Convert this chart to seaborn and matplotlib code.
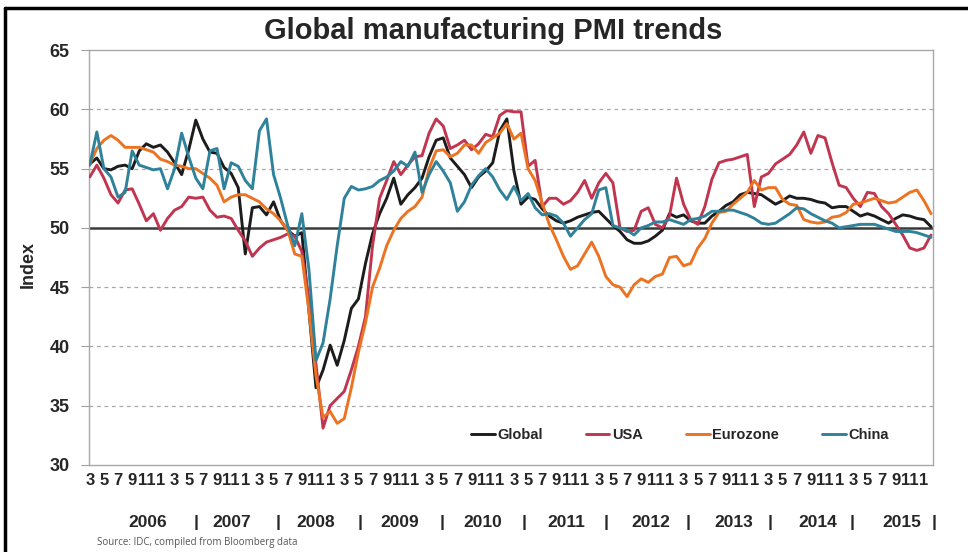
import numpy as np
import pandas as pd
import matplotlib
matplotlib.use("Agg")
import matplotlib.pyplot as plt
from matplotlib import font_manager
from matplotlib.lines import Line2D
import seaborn as sns

# Monthly manufacturing PMI readings, March 2006 to February 2016
global_pmi = [
    55.4, 55.9, 55.0, 54.9, 55.2, 55.3, 55.0, 56.5, 57.1, 56.8, 57.0, 56.4,
    55.5, 54.5, 56.6, 59.1, 57.5, 56.4, 56.3, 55.1, 54.6, 53.4, 47.8, 51.7,
    51.8, 51.1, 52.2, 50.6, 49.8, 49.3, 49.6, 43.0, 36.5, 38.0, 40.1, 38.4,
    40.5, 43.2, 44.0, 47.0, 49.5, 51.2, 52.5, 54.2, 52.0, 52.8, 53.4, 54.2,
    56.0, 57.4, 57.6, 55.9, 55.2, 54.5, 53.4, 54.3, 54.8, 55.5, 58.2, 59.2,
    54.8, 52.0, 52.6, 52.4, 51.6, 51.0, 50.6, 50.4, 50.6, 50.9, 51.1, 51.3,
    51.4, 50.8, 50.2, 49.7, 49.0, 48.7, 48.7, 48.9, 49.3, 49.8, 51.2, 50.9,
    51.1, 50.6, 50.4, 50.4, 51.0, 51.4, 51.9, 52.2, 52.8, 53.0, 52.9, 52.8,
    52.4, 52.0, 52.3, 52.7, 52.5, 52.5, 52.4, 52.2, 52.1, 51.7, 51.8, 51.8,
    51.4, 51.0, 51.2, 51.0, 50.7, 50.4, 50.8, 51.1, 51.0, 50.8, 50.7, 50.1,
]
usa_pmi = [
    54.3, 55.3, 54.2, 52.8, 52.1, 53.2, 53.3, 52.0, 50.6, 51.2, 49.8, 50.8,
    51.5, 51.8, 52.6, 52.5, 52.6, 51.5, 50.9, 51.0, 50.8, 49.8, 48.9, 47.6,
    48.3, 48.8, 49.0, 49.2, 49.5, 49.3, 48.0, 44.0, 38.5, 33.1, 35.0, 35.6,
    36.2, 38.0, 40.0, 42.5, 48.5, 52.5, 54.0, 55.6, 54.5, 55.3, 56.0, 56.1,
    58.0, 59.2, 58.6, 56.7, 57.0, 57.4, 56.6, 57.1, 57.9, 57.7, 59.5, 59.9,
    59.8, 59.8, 55.2, 55.7, 51.8, 52.5, 52.5, 52.0, 52.3, 53.0, 54.0, 52.5,
    53.8, 54.6, 53.8, 50.0, 49.7, 49.8, 51.4, 51.7, 50.3, 50.0, 51.0, 54.2,
    52.0, 50.7, 50.3, 51.8, 54.1, 55.5, 55.7, 55.8, 56.0, 56.2, 51.8, 54.3,
    54.6, 55.4, 55.8, 56.2, 57.0, 58.1, 56.3, 57.8, 57.6, 55.5, 53.6, 53.4,
    52.5, 51.8, 53.0, 52.9, 51.8, 51.2, 50.3, 49.4, 48.3, 48.1, 48.3, 49.4,
]
eurozone_pmi = [
    55.4, 56.7, 57.4, 57.8, 57.4, 56.8, 56.8, 56.8, 56.6, 56.4, 55.8, 55.6,
    55.3, 55.2, 55.0, 55.0, 54.6, 54.2, 53.6, 52.2, 52.6, 52.8, 52.8, 52.5,
    52.2, 51.6, 51.2, 50.6, 49.8, 47.8, 47.6, 43.0, 37.5, 34.0, 34.5, 33.5,
    33.9, 36.5, 39.5, 42.0, 45.0, 46.6, 48.5, 49.8, 50.8, 51.4, 51.8, 52.6,
    55.0, 56.5, 56.6, 56.0, 56.3, 57.0, 57.0, 56.3, 57.2, 57.6, 58.0, 58.8,
    57.5, 58.0, 55.0, 54.0, 52.1, 50.3, 49.0, 47.6, 46.5, 46.8, 47.8, 48.8,
    47.6, 45.9, 45.2, 45.0, 44.2, 45.2, 45.7, 45.4, 45.9, 46.1, 47.5, 47.6,
    46.8, 47.0, 48.3, 49.1, 50.4, 51.3, 51.4, 52.0, 52.5, 53.0, 54.0, 53.2,
    53.4, 53.4, 52.4, 52.0, 51.9, 50.7, 50.5, 50.4, 50.5, 50.9, 51.0, 51.3,
    52.0, 52.1, 52.3, 52.5, 52.3, 52.1, 52.2, 52.6, 53.0, 53.2, 52.3, 51.2,
]
china_pmi = [
    55.3, 58.1, 55.0, 54.3, 52.6, 53.0, 56.5, 55.3, 55.1, 54.9, 55.0, 53.3,
    55.0, 58.0, 56.0, 54.2, 53.3, 56.5, 56.7, 53.3, 55.5, 55.2, 54.0, 53.3,
    58.2, 59.2, 54.5, 52.5, 50.2, 48.5, 51.2, 46.5, 38.8, 40.3, 44.0, 48.5,
    52.5, 53.5, 53.2, 53.3, 53.5, 54.0, 54.3, 54.8, 55.6, 55.2, 56.4, 53.0,
    54.5, 55.6, 54.8, 53.8, 51.4, 52.2, 53.6, 54.4, 55.0, 54.3, 53.2, 52.4,
    53.5, 52.3, 52.9, 51.7, 51.1, 51.2, 51.0, 50.4, 49.3, 50.0, 50.7, 51.2,
    53.2, 53.4, 50.2, 50.0, 49.8, 49.4, 50.0, 50.2, 50.5, 50.5, 50.7, 50.5,
    50.3, 50.7, 50.8, 51.0, 51.4, 51.4, 51.5, 51.5, 51.3, 51.1, 50.8, 50.4,
    50.3, 50.4, 50.8, 51.2, 51.7, 51.6, 51.2, 50.9, 50.6, 50.4, 50.0, 50.1,
    50.2, 50.3, 50.3, 50.3, 50.1, 49.9, 49.7, 49.7, 49.7, 49.6, 49.4, 49.2,
]

series_names = ["Global", "USA", "Eurozone", "China"]
series_colors = ["#1c1c1c", "#c0354f", "#ec7322", "#2f8299"]
years = ["2006", "2007", "2008", "2009", "2010", "2011", "2012", "2013", "2014", "2015"]
first_month = 3  # series begins in March 2006

n = len(global_pmi)
month_idx = np.arange(n)
df = pd.DataFrame({
    "idx": np.tile(month_idx, 4),
    "series": np.repeat(series_names, n),
    "value": global_pmi + usa_pmi + eurozone_pmi + china_pmi,
})

sns.set_style("white")
plt.rcParams["font.family"] = ["Liberation Sans", "DejaVu Sans"]
installed = {f.name for f in font_manager.fontManager.ttflist}
narrow = "Liberation Sans Narrow" if "Liberation Sans Narrow" in installed else "Liberation Sans"

fig = plt.figure(figsize=(9.68, 5.52), dpi=100)
ax = fig.add_axes([0.092, 0.158, 0.872, 0.751])

# reference gridlines and the 50 expansion/contraction line
for v in [35, 40, 45, 55, 60]:
    ax.axhline(v, color="#a8a8a8", lw=0.9, ls=(0, (3, 3)), zorder=1)
ax.axhline(50, color="#3a3a3a", lw=1.8, zorder=1.5)

sns.lineplot(data=df, x="idx", y="value", hue="series", hue_order=series_names,
             palette=series_colors, linewidth=2.1, ax=ax, zorder=3)

ax.set_xlim(-0.1, n - 0.7)
ax.set_ylim(30, 65)
ax.set_yticks(range(30, 66, 5))
ax.set_yticklabels([str(v) for v in range(30, 66, 5)], fontsize=13, fontweight="bold")
ax.tick_params(axis="y", length=6, color="#a0a0a0", pad=8, left=True)

ticks = list(range(0, n, 2))
ax.set_xticks(ticks)
ax.set_xticklabels([str((first_month - 1 + i) % 12 + 1) for i in ticks],
                   fontsize=12, fontweight="bold", family=narrow)
ax.tick_params(axis="x", length=0, pad=6)
ax.set_xlabel("")
ax.set_ylabel("")

for s in ax.spines.values():
    s.set_color("#a8a8a8")
    s.set_linewidth(1.0)

handles, labels = ax.get_legend_handles_labels()
ax.legend(handles, labels, ncol=4, loc="center", bbox_to_anchor=(0.70, 0.072),
          frameon=False, prop={"weight": "bold", "size": 10.5},
          handlelength=1.6, handletextpad=0.15, columnspacing=3.0)

# year row beneath the month labels
for k, yr in enumerate(years):
    ax.text(0.0699 + 0.0992 * k, -0.14, yr, transform=ax.transAxes,
            ha="center", va="center", fontsize=12.5, fontweight="bold")
    ax.text(0.1268 + 0.0972 * k, -0.14, "|", transform=ax.transAxes,
            ha="center", va="center", fontsize=12.5, fontweight="bold")

fig.text(0.509, 0.943, "Global manufacturing PMI trends", ha="center", va="center",
         fontsize=21, fontweight="bold")
fig.text(28 / 968, 1 - 265 / 552, "Index", rotation=90, ha="center", va="center",
         fontsize=13, fontweight="bold")
fig.text(97 / 968, 1 - 542 / 552, "Source: IDC, compiled from Bloomberg data",
         ha="left", va="center", fontsize=7, color="#555555", family=["Open Sans", "DejaVu Sans"])

# outer frame (top and left edges)
fig.add_artist(Line2D([5 / 968, 5 / 968], [0, 1 - 8 / 552], transform=fig.transFigure,
                      color="black", lw=2.5))
fig.add_artist(Line2D([5 / 968, 1], [1 - 8 / 552, 1 - 8 / 552], transform=fig.transFigure,
                      color="black", lw=2.5))

fig.savefig("out.png", dpi=100)
